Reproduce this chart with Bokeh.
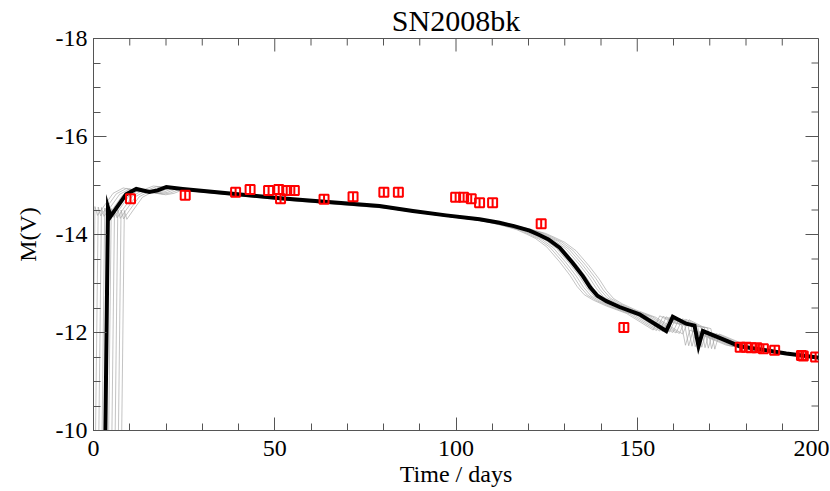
import numpy as np
from bokeh.plotting import figure
from bokeh.models import Range1d, FixedTicker
from bokeh.embed import file_html
from bokeh.resources import INLINE

# Best-fit model light curve (black)
model_day = [3.2, 4.0, 4.7, 6.3, 9.0, 11.8, 15.4, 17.7, 20.1, 24.6, 38.4, 51.6, 56.8,
             78.9, 88.1, 97.3, 106.5, 112.0, 116.0, 120.3, 123.0, 125.5, 128.6, 132.2,
             135.0, 137.0, 139.0, 141.5, 145.1, 150.6, 158.0, 159.8, 163.5, 165.8,
             166.9, 168.1, 172.7, 178.2, 184.6, 191.1, 196.6, 199.7, 204.0]
model_mag = [-9.5, -14.55, -14.37, -14.54, -14.82, -14.93, -14.87, -14.90, -14.97, -14.93,
             -14.83, -14.74, -14.71, -14.58, -14.48, -14.39, -14.31, -14.24, -14.17,
             -14.08, -13.99, -13.90, -13.73, -13.42, -13.15, -12.92, -12.75, -12.64,
             -12.52, -12.37, -12.03, -12.32, -12.18, -12.14, -11.72, -12.03, -11.89,
             -11.72, -11.65, -11.57, -11.52, -11.49, -11.45]

# Neighbouring models of the grid (grey), offsets from the best fit
gray_shift = [-3.6, -2.7, -1.8, -0.9, 0.9, 1.8, 2.7, 3.6, 4.5]
gray_dmag = [-0.02, -0.01, 0.0, 0.01, 0.02, 0.03, 0.04, 0.05, 0.06]

# Observed V-band photometry (red)
obs_day = [10.2, 25.3, 39.2, 43.2, 48.3, 51.1, 51.6, 53.3, 55.4, 63.6, 71.6, 80.1,
           84.1, 99.9, 102.1, 104.2, 106.5, 110.1, 123.5, 146.3, 178.4, 180.1,
           181.4, 183.0, 184.8, 187.9, 195.3, 195.8, 199.2]
obs_mag = [-14.73, -14.80, -14.86, -14.92, -14.90, -14.92, -14.73, -14.90, -14.90,
           -14.72, -14.77, -14.86, -14.86, -14.76, -14.76, -14.73, -14.65, -14.65,
           -14.22, -12.10, -11.70, -11.70, -11.69, -11.69, -11.67, -11.64, -11.53,
           -11.52, -11.50]

x_ticks = [0, 50, 100, 150, 200]
x_minor = list(range(0, 201, 10))
y_ticks = [-18, -16, -14, -12, -10]
y_minor = [v / 2 for v in range(-36, -19)]

FONT = "Liberation Serif"
AXC = "#555555"

p = figure(frame_width=725, frame_height=392, output_backend="svg", toolbar_location=None,
           x_range=Range1d(x_ticks[0], x_ticks[-1]), y_range=Range1d(y_ticks[-1], y_ticks[0]),
           min_border_left=93, min_border_right=11, min_border_top=36, min_border_bottom=40,
           background_fill_color="white", border_fill_color="white")
p.outline_line_color = AXC
p.outline_line_width = 1
p.xgrid.visible = False
p.ygrid.visible = False

p.title.text = "SN2008bk"
p.title.align = "center"
p.title.text_font = FONT
p.title.text_font_size = "30px"
p.title.text_font_style = "normal"
p.title.text_color = "black"
p.title.text_line_height = 0.9
p.title.standoff = 3
p.title.offset = 0

for ax in (p.xaxis[0], p.yaxis[0]):
    ax.axis_line_color = AXC
    ax.major_tick_line_color = AXC
    ax.minor_tick_line_color = AXC
    ax.major_tick_in = 13
    ax.major_tick_out = 0
    ax.minor_tick_in = 7
    ax.minor_tick_out = 0
    ax.major_label_text_font = FONT
    ax.major_label_text_color = "black"
    ax.major_label_text_font_size = "24px"
    ax.axis_label_text_font = FONT
    ax.axis_label_text_font_style = "normal"
    ax.axis_label_text_color = "black"
    ax.axis_label_text_font_size = "24px"

p.xaxis.ticker = FixedTicker(ticks=x_ticks, minor_ticks=x_minor)
p.yaxis.ticker = FixedTicker(ticks=y_ticks, minor_ticks=y_minor)
p.xaxis.major_label_overrides = {t: str(t) for t in x_ticks}
p.yaxis.major_label_overrides = {t: str(t) for t in y_ticks}
p.xaxis.axis_label = "Time / days"
p.yaxis.axis_label = "M(V)"
p.xaxis.major_label_standoff = 10
p.xaxis.axis_label_standoff = 2
p.yaxis.major_label_standoff = 6
p.yaxis.axis_label_standoff = 12
p.yaxis.major_label_orientation = "horizontal"

# mirrored inward ticks on the top and right edges of the frame
top_y = [y_ticks[0]] * len(x_minor)
p.ray(x=x_minor, y=top_y, length=[13 if t in x_ticks else 7 for t in x_minor],
      length_units="screen", angle=-np.pi / 2, line_color=AXC, line_width=1)
right_x = [x_ticks[-1]] * len(y_minor)
p.ray(x=right_x, y=y_minor, length=[13 if t in y_ticks else 7 for t in y_minor],
      length_units="screen", angle=np.pi, line_color=AXC, line_width=1)

md = np.array(model_day)
mm = np.array(model_mag)
for s, dm in zip(gray_shift, gray_dmag):
    p.line(md + s, mm + dm, line_color="#a0a0a0", line_width=0.8, line_alpha=0.8)

p.line(model_day, model_mag, line_color="black", line_width=4, line_join="miter")

p.scatter(obs_day, obs_mag, marker="square", size=9, fill_color=None,
          line_color="red", line_width=2)
p.scatter(obs_day, obs_mag, marker="dash", angle=np.pi / 2, size=9,
          line_color="red", line_width=2)

open("out.html", "w").write(file_html(p, INLINE))
